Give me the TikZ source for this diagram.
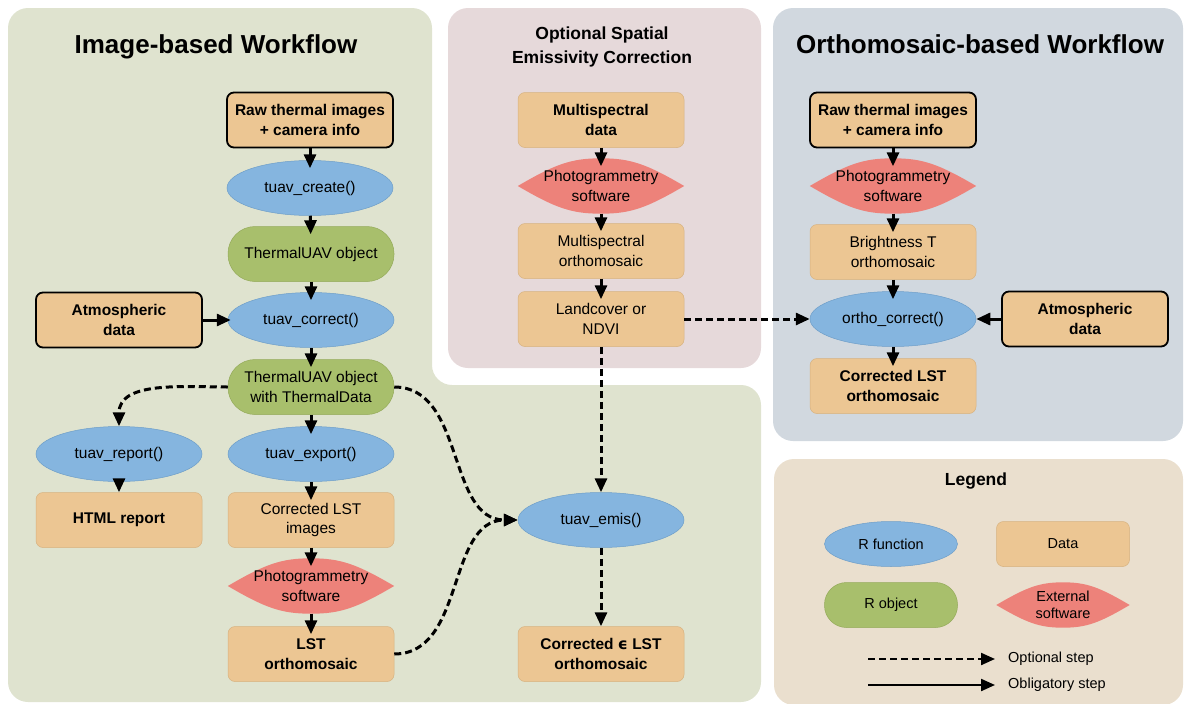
\documentclass[tikz,border=0pt]{standalone}
\usepackage{fontspec}
\setmainfont{Liberation Sans}
\newfontfamily\djv{DejaVu Sans}
\usetikzlibrary{shapes.geometric,arrows.meta}
\definecolor{bgG}{RGB}{223,227,207}
\definecolor{bgP}{RGB}{230,217,218}
\definecolor{bgB}{RGB}{209,216,223}
\definecolor{bgL}{RGB}{234,223,206}
\definecolor{dataC}{RGB}{236,198,147}
\definecolor{dataD}{RGB}{215,178,128}
\definecolor{funcC}{RGB}{133,181,223}
\definecolor{funcD}{RGB}{110,158,200}
\definecolor{objC}{RGB}{168,191,108}
\definecolor{objD}{RGB}{148,170,90}
\definecolor{softC}{RGB}{237,130,122}
\newcommand\lensfill[3]{\fill[softC] (#1.west) .. controls +({0.45*#2},{-0.78*#3}) and +({-0.36*#2},0) .. (#1.north) .. controls +({0.36*#2},0) and +({-0.45*#2},{-0.78*#3}) .. (#1.east) .. controls +({-0.45*#2},{0.78*#3}) and +({0.36*#2},0) .. (#1.south) .. controls +({-0.36*#2},0) and +({0.45*#2},{0.78*#3}) .. (#1.west) -- cycle;}
\newcommand\softnode[6][]{\node[base,#1] (#2) at (#3) {};\lensfill{#2}{#5}{#6}\node[base,#1] (#2t) at (#2) {#4};}
\begin{document}
\begin{tikzpicture}[x=1pt,y=-1pt,
  nf/.style={font=\fontsize{15.5}{19.5}\selectfont},
  bf/.style={font=\fontsize{15.5}{19.5}\selectfont\bfseries},
  base/.style={minimum width=166pt, minimum height=55pt, inner sep=0pt, align=center, nf},
  data/.style={base, rectangle, rounded corners=7pt, fill=dataC, draw=dataD, line width=0.5pt},
  datab/.style={data, draw=black, line width=1.8pt, bf},
  func/.style={base, ellipse, fill=funcC, draw=funcD, line width=0.5pt},
  obj/.style={base, rectangle, rounded corners=27pt, fill=objC, draw=objD, line width=0.5pt},
  lg/.style={minimum width=133pt, minimum height=45pt, font=\fontsize{14.5}{17}\selectfont},
  arr/.style={line width=3pt, -{Triangle[length=14pt,width=12pt]}},
  varr/.style={arr, shorten >=-8pt},
  darr/.style={arr, dash pattern=on 7pt off 4pt},
  ttl/.style={font=\fontsize{26}{30}\selectfont\bfseries, anchor=base}
]
\useasboundingbox (0,0) rectangle (1184,704);
% panels
\fill[bgG, rounded corners=20pt] (8,8) -- (432,8) -- (432,385) -- (761,385) -- (761,702) -- (8,702) -- cycle;
\fill[bgP, rounded corners=20pt] (448,8) rectangle (761,368);
\fill[bgB, rounded corners=20pt] (773,8) rectangle (1183,441);
\fill[bgL, rounded corners=20pt] (774,459) rectangle (1183,705);
% titles
\node[ttl] (t1) at (216,53) {Image-based Workflow};
\node[ttl] (t2) at (980,53) {Orthomosaic-based Workflow};
\node[font=\fontsize{17.5}{24}\selectfont\bfseries, align=center] (t3) at (602,46.5) {Optional Spatial\\Emissivity Correction};
\node[font=\fontsize{17.5}{21}\selectfont\bfseries, anchor=base] (t4) at (976,485) {Legend};
% left column
\node[datab] (raw1) at (310,120) {Raw thermal images\\+ camera info};
\node[func] (create) at (310,188) {tuav\_create()};
\node[obj] (obj1) at (311,254) {ThermalUAV object};
\node[func] (correct) at (311,320) {tuav\_correct()};
\node[datab] (atm1) at (119,320) {Atmospheric\\data};
\node[obj] (objd) at (311,387) {ThermalUAV object\\with ThermalData};
\node[func] (report) at (119,454) {tuav\_report()};
\node[func] (export) at (311,454) {tuav\_export()};
\node[data, bf] (html) at (119,520) {HTML report};
\node[data] (lstimg) at (311,520) {Corrected LST\\images};
\softnode{ps1}{311,586}{Photogrammetry\\software}{83}{28}
\node[data, bf] (lstortho) at (311,654) {LST\\orthomosaic};
% middle column
\node[data, bf] (ms) at (601,120) {Multispectral\\data};
\softnode{ps2}{601,186}{Photogrammetry\\software}{83}{28}
\node[data] (msortho) at (601,251) {Multispectral\\orthomosaic};
\node[data] (land) at (601,319) {Landcover or\\NDVI};
\node[func] (emis) at (601,520) {tuav\_emis()};
\node[data, bf] (epslst) at (601,654) {Corrected {\djv ϵ} LST\\orthomosaic};
% right column
\node[datab] (raw2) at (893,120) {Raw thermal images\\+ camera info};
\softnode{ps3}{893,186}{Photogrammetry\\software}{83}{28}
\node[data] (bright) at (893,252) {Brightness T\\orthomosaic};
\node[func] (ocorr) at (893,319) {ortho\_correct()};
\node[datab] (atm2) at (1085,319) {Atmospheric\\data};
\node[data, bf] (clst) at (893,386) {Corrected LST\\orthomosaic};
% legend
\node[func, lg] (lf) at (891,544) {R function};
\node[data, lg] (ld) at (1063,544) {Data};
\node[obj, lg, rounded corners=22pt] (lo) at (891,605) {R object};
\softnode[lg]{ls}{1063,605}{External\\software}{66.5}{22.5}
\coordinate (o1) at (868,659);
\coordinate (o2) at (995,659);
\coordinate (b1) at (868,685);
\coordinate (b2) at (995,685);
\draw[darr, line width=2.2pt] (o1) -- (o2);
\draw[arr, line width=2.2pt] (b1) -- (b2);
\node[anchor=west, inner sep=0pt, font=\fontsize{14.5}{17}\selectfont] (ot) at (1008,659) {Optional step};
\node[anchor=west, inner sep=0pt, font=\fontsize{14.5}{17}\selectfont] (bt) at (1008,685) {Obligatory step};
% connectors left
\draw[varr] (raw1) -- (create);
\draw[varr] (create) -- (obj1);
\draw[varr] (obj1) -- (correct);
\draw[arr, shorten >=-3pt] (atm1) -- (correct);
\draw[varr] (correct) -- (objd);
\draw[varr] (objd) -- (export);
\draw[varr] (export) -- (lstimg);
\draw[varr] (lstimg) -- (ps1);
\draw[varr] (ps1) -- (lstortho);
\draw[darr] (objd.west) to[out=180,in=90] (report.north);
\draw[darr] (report) -- (html);
\draw[darr] (objd.east) to[out=0,in=180] (emis.west);
\draw[darr] (lstortho.east) to[out=0,in=180] (emis.west);
% middle
\draw[varr] (ms) -- (ps2);
\draw[varr] (ps2) -- (msortho);
\draw[varr] (msortho) -- (land);
\draw[darr] (land) -- (emis);
\draw[darr] (emis) -- (epslst);
\draw[darr] (land) -- (ocorr);
% right
\draw[varr] (raw2) -- (ps3);
\draw[varr] (ps3) -- (bright);
\draw[varr] (bright) -- (ocorr);
\draw[arr] (atm2) -- (ocorr);
\draw[varr] (ocorr) -- (clst);
\end{tikzpicture}
\end{document}
